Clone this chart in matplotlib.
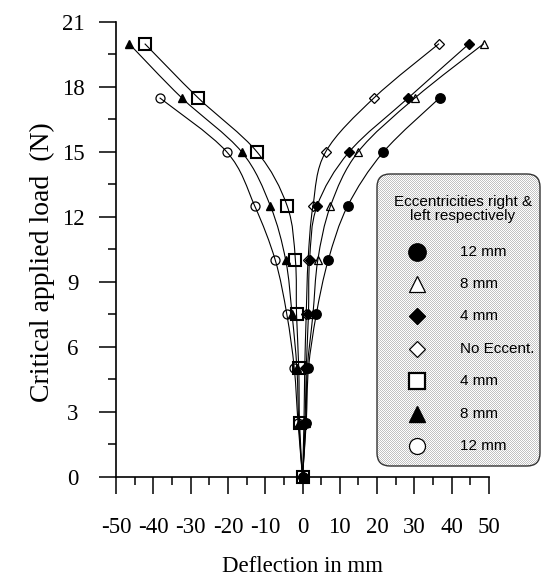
import numpy as np
import matplotlib
matplotlib.use("Agg")
import matplotlib.pyplot as plt
from matplotlib.path import Path
from matplotlib.patches import PathPatch, FancyBboxPatch

plt.rcParams["axes.unicode_minus"] = False

# load steps (N) and measured deflections (mm)
load = [0, 2.5, 5, 7.5, 10, 12.5, 15, 17.5, 20]
right_12 = [0, 1.0, 1.6, 3.7, 6.9, 12.1, 21.7, 36.8]
right_8 = [0, 0.9, 1.3, 2.8, 4.1, 7.5, 14.9, 30.2, 48.6]
right_4 = [0, 0.7, 1.0, 1.6, 1.9, 3.9, 12.5, 28.4, 44.7]
no_ecc = [0, 0.4, 0.6, 1.0, 1.5, 2.8, 6.2, 19.2, 36.6]
left_4 = [0, -0.8, -1.0, -1.6, -1.9, -4.1, -12.2, -28.0, -42.3]
left_8 = [0, -1.0, -1.5, -2.8, -4.5, -8.6, -16.3, -32.4, -46.5]
left_12 = [0, -1.2, -2.2, -4.2, -7.3, -12.8, -20.3, -38.3]

labels = ["12 mm", "8 mm", "4 mm", "No Eccent.", "4 mm", "8 mm", "12 mm"]
x_ticks = list(range(-50, 51, 10))
y_ticks = list(range(0, 22, 3))

# marker, size in plot, size in legend, filled, edge width
styles = [
    ("o", 6.8, 12.5, True, 1.0),
    ("^", 6.0, 11.0, False, 0.9),
    ("D", 4.8, 8.5, True, 1.0),
    ("D", 4.8, 8.5, False, 0.9),
    ("s", 8.5, 11.5, False, 1.5),
    ("^", 6.0, 11.0, True, 1.0),
    ("o", 6.5, 11.5, False, 0.9),
]
series = [right_12, right_8, right_4, no_ecc, left_4, left_8, left_12]

serif = "Liberation Serif"
sans = "Liberation Sans"


def smooth_path(xs, ys):
    # Catmull-Rom curve through the points, written as cubic Bezier pieces
    pts = np.column_stack([xs, ys]).astype(float)
    ext = np.vstack([pts[0], pts, pts[-1]])
    verts = [pts[0]]
    codes = [Path.MOVETO]
    for i in range(len(pts) - 1):
        p0, p1, p2, p3 = ext[i], ext[i + 1], ext[i + 2], ext[i + 3]
        verts += [p1 + (p2 - p0) / 6, p2 - (p3 - p1) / 6, p2]
        codes += [Path.CURVE4] * 3
    return Path(verts, codes)


fig = plt.figure(figsize=(5.44, 5.77), dpi=100)
ax = fig.add_axes([116 / 544, 1 - 476.7 / 577, 373 / 544, 454.7 / 577])

for xs, (mk, ms, _, filled, mew) in zip(series, styles):
    ys = load[:len(xs)]
    ax.add_patch(PathPatch(smooth_path(xs, ys), fill=False, lw=0.8,
                           edgecolor="black", clip_on=False, zorder=2))
    ax.plot(xs, ys, linestyle="none", marker=mk, ms=ms,
            mfc="black" if filled else "none", mec="black", mew=mew,
            clip_on=False, zorder=3)

ax.set_xlim(-50, 50)
ax.set_ylim(0, 21)
ax.spines["top"].set_visible(False)
ax.spines["right"].set_visible(False)
ax.spines["left"].set_linewidth(1.2)
ax.spines["bottom"].set_linewidth(1.2)

ax.set_xticks(x_ticks)
ax.set_xticks(np.arange(-45, 50, 10), minor=True)
ax.set_yticks(y_ticks)
ax.set_yticks(np.arange(1.5, 21, 3), minor=True)
ax.tick_params(which="major", direction="out", length=12, width=1.1)
ax.tick_params(which="minor", direction="out", length=6, width=1.1)
ax.tick_params(axis="x", which="major", pad=17, labelsize=16.5)
ax.tick_params(axis="y", which="major", pad=19, labelsize=16.5)
for t in ax.get_xticklabels() + ax.get_yticklabels():
    t.set_fontfamily(serif)
for t in ax.get_yticklabels():
    t.set_horizontalalignment("center")

fig.text(302 / 544, 1 - 566 / 577, "Deflection in mm", fontsize=16.5,
         family=serif, ha="center", va="center")
fig.text(42 / 544, 1 - 262 / 577, "Critical applied load  (N)", fontsize=20,
         family=serif, ha="center", va="center", rotation=90)

# legend panel, drawn on a pixel-scaled overlay
lg = fig.add_axes([0, 0, 1, 1], zorder=5)
lg.set_xlim(0, 544)
lg.set_ylim(577, 0)
lg.axis("off")

bx, by, bw, bh = 377, 174, 163, 292
box = FancyBboxPatch((bx, by), bw, bh, boxstyle="round,pad=0,rounding_size=13",
                     facecolor="none", edgecolor="#333333", lw=1.0, zorder=3)
lg.add_patch(box)
ii, jj = np.mgrid[0:bh, 0:bw]
dots = np.where((ii + jj) % 2 == 0, 1.0, 0.76)
img = lg.imshow(dots, cmap="gray", vmin=0, vmax=1, interpolation="nearest",
                extent=(bx, bx + bw, by + bh, by), origin="upper", zorder=1,
                aspect="auto")
img.set_clip_path(box)
lg.set_xlim(0, 544)
lg.set_ylim(577, 0)

lg.text(463, 209, "Eccentricities right &\nleft respectively", fontsize=11,
        family=sans, ha="center", va="center", linespacing=1.05, zorder=4)
row_y = 251.7
for lab, (mk, _, lms, filled, mew) in zip(labels, styles):
    lg.plot([416.5], [row_y], linestyle="none", marker=mk, ms=lms,
            mfc="black" if filled else "white", mec="black",
            mew=mew if mk != "s" else 1.6, zorder=4)
    lg.text(460, row_y, lab, fontsize=11, family=sans, ha="left",
            va="center", zorder=4)
    row_y += 32.4

fig.savefig("out.png", dpi=100)
